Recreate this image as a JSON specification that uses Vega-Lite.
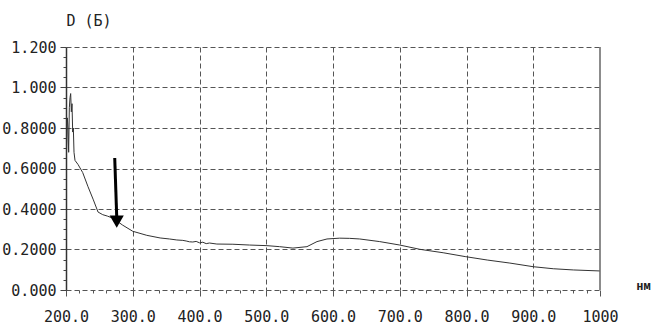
{
  "$schema": "https://vega.github.io/schema/vega-lite/v6.json",
  "width": 534,
  "height": 243,
  "autosize": "none",
  "padding": {"left": 66, "top": 47, "right": 52, "bottom": 35},
  "background": "white",
  "config": {
    "view": {"stroke": null},
    "font": "DejaVu Sans Mono"
  },
  "datasets": {
    "spectrum": [
      {"nm": 200.5, "D": 0.66}, {"nm": 201, "D": 0.7}, {"nm": 202, "D": 0.85}, {"nm": 203, "D": 0.8},
      {"nm": 204, "D": 0.68}, {"nm": 205, "D": 0.9}, {"nm": 206, "D": 0.95}, {"nm": 207, "D": 0.97},
      {"nm": 208, "D": 0.88}, {"nm": 209, "D": 0.92}, {"nm": 210, "D": 0.78}, {"nm": 211, "D": 0.8},
      {"nm": 212, "D": 0.68}, {"nm": 213.5, "D": 0.64}, {"nm": 218, "D": 0.62}, {"nm": 225, "D": 0.58},
      {"nm": 233, "D": 0.51}, {"nm": 241, "D": 0.445}, {"nm": 248, "D": 0.385}, {"nm": 255, "D": 0.372},
      {"nm": 262, "D": 0.365}, {"nm": 270, "D": 0.355}, {"nm": 285, "D": 0.32}, {"nm": 300, "D": 0.29},
      {"nm": 321, "D": 0.27}, {"nm": 341, "D": 0.257}, {"nm": 355, "D": 0.252}, {"nm": 366, "D": 0.247},
      {"nm": 375, "D": 0.245}, {"nm": 380, "D": 0.242}, {"nm": 385, "D": 0.238}, {"nm": 390, "D": 0.237},
      {"nm": 395, "D": 0.24}, {"nm": 400, "D": 0.233}, {"nm": 405, "D": 0.236}, {"nm": 410, "D": 0.229},
      {"nm": 415, "D": 0.232}, {"nm": 426, "D": 0.227}, {"nm": 450, "D": 0.226}, {"nm": 475, "D": 0.222},
      {"nm": 501, "D": 0.219}, {"nm": 520, "D": 0.214}, {"nm": 540, "D": 0.207}, {"nm": 561, "D": 0.214},
      {"nm": 576, "D": 0.239}, {"nm": 591, "D": 0.252}, {"nm": 610, "D": 0.256}, {"nm": 625, "D": 0.255},
      {"nm": 640, "D": 0.252}, {"nm": 670, "D": 0.239}, {"nm": 700, "D": 0.222}, {"nm": 730, "D": 0.201},
      {"nm": 765, "D": 0.184}, {"nm": 798, "D": 0.165}, {"nm": 831, "D": 0.148}, {"nm": 865, "D": 0.133},
      {"nm": 900, "D": 0.115}, {"nm": 930, "D": 0.105}, {"nm": 960, "D": 0.099}, {"nm": 1000, "D": 0.094}
    ],
    "arrow": [
      {"x1": 273, "y1": 0.652, "x2": 276, "y2": 0.36}
    ],
    "arrowhead": [
      {"x": 276, "y": 0.338}
    ],
    "border": [
      {"x": 1000}
    ]
  },
  "layer": [
    {
      "data": {"name": "spectrum"},
      "mark": {"type": "line", "color": "#333333", "strokeWidth": 1, "clip": true},
      "encoding": {
        "x": {
          "field": "nm", "type": "quantitative",
          "scale": {"domain": [200, 1000], "nice": false, "zero": false},
          "axis": {
            "values": [200,220,240,260,280,300,320,340,360,380,400,420,440,460,480,500,520,540,560,580,600,620,640,660,680,700,720,740,760,780,800,820,840,860,880,900,920,940,960,980,1000],
            "tickCount": 100,
            "labelExpr": "datum.value % 100 === 0 ? (datum.value === 1000 ? '1000' : format(datum.value, '.1f')) : ''",
            "labelFont": "DejaVu Sans Mono",
            "labelFontSize": 15,
            "labelColor": "#222222",
            "labelPadding": 13,
            "labelFlush": false,
            "labelOverlap": false,
            "domain": false,
            "ticks": true,
            "tickColor": "#555555",
            "tickSize": {"condition": {"test": "datum.value % 100 === 0", "value": 6}, "value": 3},
            "grid": true,
            "gridColor": "#555555",
            "gridDash": [5, 3],
            "gridWidth": 1,
            "gridOpacity": {"condition": {"test": "datum.value % 100 === 0 && datum.value > 200 && datum.value < 1000", "value": 1}, "value": 0},
            "title": "нм",
            "titleFont": "DejaVu Sans Mono",
            "titleFontSize": 12,
            "titleFontWeight": "bold",
            "titleColor": "#222222",
            "titleAngle": 0,
            "titleAlign": "center",
            "titleBaseline": "middle",
            "titleX": 577,
            "titleY": -5
          }
        },
        "y": {
          "field": "D", "type": "quantitative",
          "scale": {"domain": [0, 1.2], "nice": false, "zero": true},
          "axis": {
            "values": [0,0.05,0.1,0.15,0.2,0.25,0.3,0.35,0.4,0.45,0.5,0.55,0.6,0.65,0.7,0.75,0.8,0.85,0.9,0.95,1.0,1.05,1.1,1.15,1.2],
            "tickCount": 100,
            "labelExpr": "abs(round(datum.value*5) - datum.value*5) < 0.01 ? (datum.value < 0.01 ? '0.000' : (datum.value > 0.99 ? format(datum.value, '.3f') : format(datum.value, '.4f'))) : ''",
            "labelFont": "DejaVu Sans Mono",
            "labelFontSize": 15,
            "labelColor": "#222222",
            "labelPadding": 4,
            "labelFlush": false,
            "labelOverlap": false,
            "domain": true,
            "domainColor": "#333333",
            "domainWidth": 1.5,
            "ticks": true,
            "tickColor": "#444444",
            "tickSize": {"condition": {"test": "abs(round(datum.value*5) - datum.value*5) < 0.01", "value": 6}, "value": 3},
            "grid": true,
            "gridColor": "#555555",
            "gridDash": [5, 3],
            "gridWidth": 1,
            "gridOpacity": {"condition": {"test": "abs(round(datum.value*5) - datum.value*5) < 0.01", "value": 1}, "value": 0},
            "title": "D (Б)",
            "titleFont": "DejaVu Sans Mono",
            "titleFontSize": 15,
            "titleFontWeight": "normal",
            "titleColor": "#222222",
            "titleAngle": 0,
            "titleAlign": "left",
            "titleBaseline": "middle",
            "titleX": 0,
            "titleY": -27
          }
        }
      }
    },
    {
      "data": {"name": "border"},
      "mark": {"type": "rule", "color": "#666666", "strokeWidth": 1.5},
      "encoding": {
        "x": {"field": "x", "type": "quantitative"}
      }
    },
    {
      "data": {"name": "arrow"},
      "mark": {"type": "rule", "color": "black", "strokeWidth": 3},
      "encoding": {
        "x": {"field": "x1", "type": "quantitative"},
        "y": {"field": "y1", "type": "quantitative"},
        "x2": {"field": "x2"},
        "y2": {"field": "y2"}
      }
    },
    {
      "data": {"name": "arrowhead"},
      "mark": {"type": "point", "shape": "triangle-down", "filled": true, "color": "black", "size": 200, "opacity": 1},
      "encoding": {
        "x": {"field": "x", "type": "quantitative"},
        "y": {"field": "y", "type": "quantitative"}
      }
    }
  ]
}
